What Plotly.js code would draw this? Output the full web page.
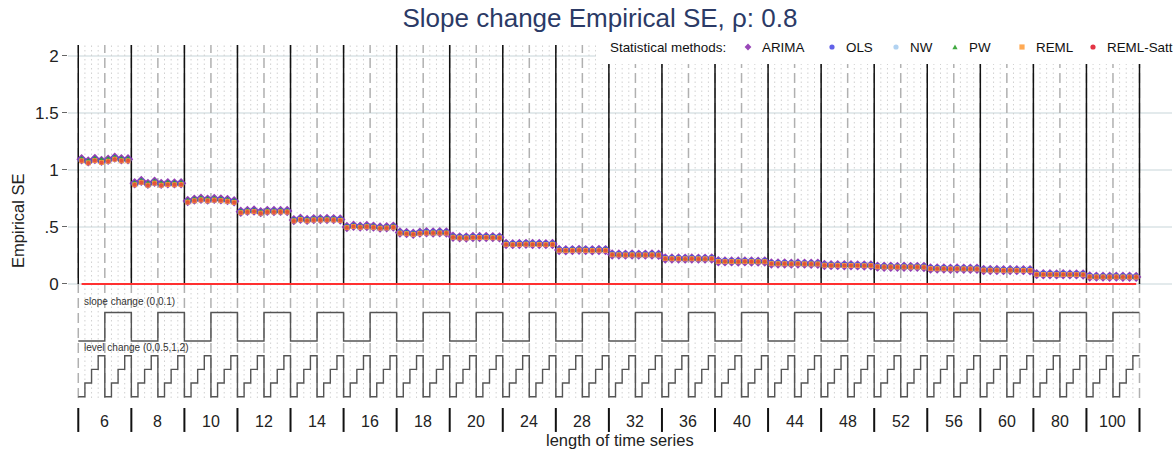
<!DOCTYPE html>
<html>
<head>
<meta charset="utf-8">
<script src="https://cdn.plot.ly/plotly-3.0.1.min.js"></script>
<style>html,body{margin:0;padding:0;background:#fff;}#chart{width:1175px;height:452px;}</style>
</head>
<body>
<div id="chart"></div>
<script>
// ---------------- data ----------------
const lengths = [6,8,10,12,14,16,18,20,24,28,32,36,40,44,48,52,56,60,80,100];
const slopeChange = [0, 0.1];
const levelChange = [0, 0.5, 1, 2];
const methods = ['ARIMA','OLS','NW','PW','REML','REML-Satt'];

// Empirical SE per scenario (length x slope x level), 8 values per length
const seARIMA = [
 1.094,1.075,1.096,1.080,1.090,1.108,1.094,1.094,
 0.883,0.904,0.878,0.896,0.878,0.884,0.882,0.884,
 0.728,0.740,0.748,0.740,0.746,0.742,0.736,0.726,
 0.634,0.641,0.644,0.630,0.641,0.640,0.641,0.640,
 0.560,0.572,0.562,0.569,0.569,0.570,0.569,0.565,
 0.500,0.510,0.503,0.508,0.503,0.495,0.497,0.503,
 0.452,0.447,0.441,0.450,0.453,0.452,0.453,0.452,
 0.414,0.409,0.408,0.412,0.412,0.412,0.411,0.409,
 0.351,0.349,0.350,0.352,0.351,0.350,0.349,0.351,
 0.298,0.296,0.297,0.299,0.297,0.296,0.298,0.297,
 0.259,0.258,0.257,0.258,0.257,0.257,0.258,0.256,
 0.224,0.223,0.223,0.222,0.223,0.222,0.222,0.223,
 0.199,0.198,0.198,0.197,0.198,0.197,0.196,0.197,
 0.180,0.179,0.179,0.178,0.179,0.178,0.177,0.177,
 0.166,0.165,0.165,0.164,0.164,0.163,0.162,0.163,
 0.152,0.151,0.151,0.150,0.151,0.150,0.150,0.149,
 0.136,0.135,0.135,0.134,0.135,0.134,0.134,0.133,
 0.123,0.122,0.122,0.121,0.122,0.121,0.121,0.120,
 0.086,0.085,0.085,0.084,0.085,0.084,0.084,0.083,
 0.065,0.064,0.064,0.063,0.064,0.063,0.063,0.062
];
const seOLS = [
 1.088,1.070,1.090,1.074,1.084,1.102,1.088,1.088,
 0.876,0.898,0.872,0.890,0.872,0.878,0.876,0.878,
 0.723,0.735,0.743,0.735,0.741,0.737,0.731,0.721,
 0.631,0.638,0.641,0.627,0.638,0.637,0.638,0.637,
 0.558,0.570,0.560,0.567,0.567,0.568,0.567,0.563,
 0.499,0.509,0.502,0.507,0.502,0.494,0.496,0.502,
 0.452,0.447,0.441,0.450,0.453,0.452,0.453,0.452,
 0.415,0.410,0.409,0.413,0.413,0.413,0.412,0.410,
 0.353,0.351,0.352,0.354,0.353,0.352,0.351,0.353,
 0.300,0.298,0.299,0.301,0.299,0.298,0.300,0.299,
 0.261,0.260,0.259,0.260,0.259,0.259,0.260,0.258,
 0.226,0.225,0.225,0.224,0.225,0.224,0.224,0.225,
 0.201,0.200,0.200,0.199,0.200,0.199,0.198,0.199,
 0.182,0.181,0.181,0.180,0.181,0.180,0.179,0.179,
 0.168,0.167,0.167,0.166,0.166,0.165,0.164,0.165,
 0.154,0.153,0.153,0.152,0.153,0.152,0.152,0.151,
 0.138,0.137,0.137,0.136,0.137,0.136,0.136,0.135,
 0.125,0.124,0.124,0.123,0.124,0.123,0.123,0.122,
 0.088,0.087,0.087,0.086,0.087,0.086,0.086,0.085,
 0.067,0.066,0.066,0.065,0.066,0.065,0.065,0.064
];
const seNW = seOLS; // same point estimates as OLS
const sePW = [
 1.097,1.078,1.099,1.088,1.093,1.110,1.096,1.096,
 0.886,0.906,0.881,0.898,0.881,0.887,0.885,0.886,
 0.730,0.742,0.750,0.742,0.748,0.744,0.738,0.728,
 0.635,0.642,0.645,0.631,0.642,0.641,0.642,0.641,
 0.561,0.573,0.563,0.570,0.570,0.571,0.570,0.566,
 0.501,0.511,0.504,0.509,0.504,0.496,0.498,0.504,
 0.452,0.447,0.441,0.450,0.453,0.452,0.453,0.452,
 0.414,0.409,0.408,0.412,0.412,0.412,0.411,0.409,
 0.351,0.349,0.350,0.352,0.351,0.350,0.349,0.351,
 0.298,0.296,0.297,0.299,0.297,0.296,0.298,0.297,
 0.259,0.258,0.257,0.258,0.257,0.257,0.258,0.256,
 0.224,0.223,0.223,0.222,0.223,0.222,0.222,0.223,
 0.199,0.198,0.198,0.197,0.198,0.197,0.196,0.197,
 0.180,0.179,0.179,0.178,0.179,0.178,0.177,0.177,
 0.166,0.165,0.165,0.164,0.164,0.163,0.162,0.163,
 0.152,0.151,0.151,0.150,0.151,0.150,0.150,0.149,
 0.136,0.135,0.135,0.134,0.135,0.134,0.134,0.133,
 0.123,0.122,0.122,0.121,0.122,0.121,0.121,0.120,
 0.086,0.085,0.085,0.084,0.085,0.084,0.084,0.083,
 0.065,0.064,0.064,0.063,0.064,0.063,0.063,0.062
];
const seREML = [
 1.080,1.062,1.082,1.066,1.076,1.094,1.080,1.080,
 0.870,0.891,0.866,0.884,0.866,0.872,0.870,0.872,
 0.717,0.729,0.737,0.729,0.735,0.731,0.725,0.715,
 0.625,0.632,0.635,0.621,0.632,0.631,0.632,0.631,
 0.553,0.564,0.554,0.561,0.561,0.562,0.561,0.557,
 0.494,0.504,0.497,0.502,0.497,0.489,0.491,0.497,
 0.446,0.441,0.435,0.444,0.447,0.446,0.447,0.446,
 0.409,0.404,0.403,0.407,0.407,0.407,0.406,0.404,
 0.347,0.345,0.346,0.348,0.347,0.346,0.345,0.347,
 0.295,0.293,0.294,0.296,0.294,0.293,0.295,0.294,
 0.256,0.255,0.254,0.255,0.254,0.254,0.255,0.253,
 0.222,0.221,0.221,0.220,0.221,0.220,0.220,0.221,
 0.197,0.196,0.196,0.195,0.196,0.195,0.194,0.195,
 0.178,0.177,0.177,0.176,0.177,0.176,0.175,0.175,
 0.164,0.163,0.163,0.162,0.162,0.161,0.160,0.161,
 0.150,0.149,0.149,0.148,0.149,0.148,0.148,0.147,
 0.134,0.133,0.133,0.132,0.133,0.132,0.132,0.131,
 0.121,0.120,0.120,0.119,0.120,0.119,0.119,0.118,
 0.084,0.083,0.083,0.082,0.083,0.082,0.082,0.081,
 0.063,0.062,0.062,0.061,0.062,0.061,0.061,0.060
];
const seREMLSatt = seREML; // same point estimates as REML
const trueValue = 0;

// ---------------- styles ----------------
const FONT = 'Liberation Sans, Arial, sans-serif';
const seriesStyle = {
  'ARIMA':     {data: seARIMA,    color:'#8e34b0', symbol:'diamond',      size:8,   opacity:0.95},
  'OLS':       {data: seOLS,      color:'#5050e6', symbol:'circle',       size:6.5, opacity:0.95},
  'NW':        {data: seNW,       color:'#a8cdf0', symbol:'circle',       size:4,   opacity:0.9},
  'PW':        {data: sePW,       color:'#2ca02c', symbol:'triangle-up',  size:6,   opacity:0.9},
  'REML':      {data: seREML,     color:'#ffa040', symbol:'square',       size:5,   opacity:0.9},
  'REML-Satt': {data: seREMLSatt, color:'#e01e30', symbol:'circle',       size:4,   opacity:0.6}
};

const nL = levelChange.length, nS = slopeChange.length;
const perGroup = nL * nS;
const nTot = lengths.length * perGroup;

// geometry (pixels) of the plot area
const M = {l:68, r:3, t:45, b:18};
const W = 1175, H = 452;
const plotW = W - M.l - M.r, plotH = H - M.t - M.b;

// scenario positions (index units)
const xs = [];
for (let k = 0; k < nTot; k++) xs.push(k + 0.5);

// layout of lower panel (in y units of the chart)
const Y_TOP = 2.096, Y_BOT = -1.316;
const slopeLow = -0.50, slopeHigh = -0.25;
const levelBase = -0.989, levelStep = 0.12;
const guideBottom = -1.0;
const barTop = -1.088, barBot = -1.298, labelY = -1.21;

const traces = [];
function vlines(positions, y0, y1) {
  const x = [], y = [];
  positions.forEach(p => { x.push(p, p, null); y.push(y0, y1, null); });
  return {x, y};
}
const dotPos = [], dashPos = [], solidPos = [];
for (let k = 0; k <= nTot; k++) {
  if (k % perGroup === 0) solidPos.push(k);
  if (k % nL === 0) dashPos.push(k); else dotPos.push(k);
}
let v = vlines(dotPos, guideBottom, Y_TOP);
traces.push({x:v.x, y:v.y, mode:'lines', line:{color:'#d0d0d0', width:1, dash:'1.5px,3px'}, hoverinfo:'skip', showlegend:false});
v = vlines(dashPos, guideBottom, Y_TOP);
traces.push({x:v.x, y:v.y, mode:'lines', line:{color:'#b0b0b0', width:1.5, dash:'10px,5px'}, hoverinfo:'skip', showlegend:false});
v = vlines(solidPos, 0, Y_TOP);
traces.push({x:v.x, y:v.y, mode:'lines', line:{color:'#111', width:1.5}, hoverinfo:'skip', showlegend:false});
v = vlines(solidPos, barBot, barTop);
traces.push({x:v.x, y:v.y, mode:'lines', line:{color:'#111', width:2}, hoverinfo:'skip', showlegend:false});

// nested-loop step lines
const sx = [], sy = [], lx = [], ly = [];
for (let k = 0; k < nTot; k++) {
  const s = Math.floor((k % perGroup) / nL);
  const l = k % nL;
  sx.push(k); sy.push(s === 0 ? slopeLow : slopeHigh);
  lx.push(k); ly.push(levelBase + levelStep * l);
}
sx.push(nTot); sy.push(sy[sy.length-1]);
lx.push(nTot); ly.push(ly[ly.length-1]);
traces.push({x:sx, y:sy, mode:'lines', line:{color:'#555', width:1.4, shape:'hv'}, hoverinfo:'skip', showlegend:false});
traces.push({x:lx, y:ly, mode:'lines', line:{color:'#555', width:1.4, shape:'hv'}, hoverinfo:'skip', showlegend:false});

// reference line
traces.push({x:[xs[0], xs[nTot-1]], y:[trueValue, trueValue], mode:'lines', line:{color:'#ff3030', width:2}, hoverinfo:'skip', showlegend:false});

// method markers
methods.forEach(m => {
  const st = seriesStyle[m];
  traces.push({x: xs, y: st.data, name: m, type:'scatter', mode:'markers', showlegend:false,
    marker:{color: st.color, symbol: st.symbol, size: st.size, opacity: st.opacity, line:{width:0}}});
});

// annotations
const ann = [];
lengths.forEach((L, g) => {
  ann.push({x: g*perGroup + perGroup/2, y: labelY, xref:'x', yref:'y', text: String(L), showarrow:false,
    font:{family:FONT, size:16, color:'#222'}});
});
ann.push({x:0.5, y:-0.158, xref:'x', yref:'y', xanchor:'left', text:'slope change (0,0.1)', showarrow:false,
  font:{family:FONT, size:10, color:'#333'}});
ann.push({x:0.5, y:-0.561, xref:'x', yref:'y', xanchor:'left', text:'level change (0,0.5,1,2)', showarrow:false,
  font:{family:FONT, size:10, color:'#333'}});
ann.push({x:0.5, y:0, xref:'paper', yref:'paper', yanchor:'middle', yshift:-6, text:'length of time series', showarrow:false,
  font:{family:FONT, size:16.5, color:'#222'}});
ann.push({x:0, y:0.553, xref:'paper', yref:'y', xanchor:'center', xshift:-50, textangle:-90, text:'Empirical SE', showarrow:false,
  font:{family:FONT, size:16.5, color:'#222'}});

// ---------------- legend (drawn manually, ggplot-like) ----------------
const px2x = px => (px - M.l) / plotW;
const py2y = py => (H - M.b - py) / plotH;
const legendTitle = 'Statistical methods:';
const legendTitleX = 608, legendY = 47;
const legendKeyX = [748, 832, 896, 955, 1022, 1093];   // key centres (px)
const legendTextGap = 12;
const shapes = [];
shapes.push({type:'rect', xref:'paper', yref:'paper', x0:px2x(596), x1:1.0, y0:py2y(64), y1:py2y(30),
  fillcolor:'#fff', line:{width:0}, layer:'above'});
ann.push({x:px2x(legendTitleX), y:py2y(legendY), xref:'paper', yref:'paper', xanchor:'left', yanchor:'middle',
  text:legendTitle, showarrow:false, font:{family:FONT, size:13.4, color:'#111'}});
methods.forEach((m, i) => {
  const st = seriesStyle[m];
  const cx = px2x(legendKeyX[i]), cy = py2y(legendY);
  const base = {xref:'paper', yref:'paper', xsizemode:'pixel', ysizemode:'pixel', xanchor:cx, yanchor:cy,
                fillcolor:st.color, line:{width:0}, layer:'above', opacity:0.9};
  const r = 2.6;
  if (st.symbol === 'circle') shapes.push(Object.assign({type:'circle', x0:-r, x1:r, y0:-r, y1:r}, base));
  else if (st.symbol === 'square') shapes.push(Object.assign({type:'rect', x0:-r, x1:r, y0:-r, y1:r}, base));
  else if (st.symbol === 'diamond') shapes.push(Object.assign({type:'path', path:`M0,${r+0.8} L${r+0.8},0 L0,${-r-0.8} L${-r-0.8},0 Z`}, base));
  else shapes.push(Object.assign({type:'path', path:`M${-r},${-r+0.4} L${r},${-r+0.4} L0,${r} Z`}, base));
  ann.push({x:px2x(legendKeyX[i] + legendTextGap), y:cy, xref:'paper', yref:'paper', xanchor:'left', yanchor:'middle',
    text:m, showarrow:false, font:{family:FONT, size:13.4, color:'#111'}});
});

const layout = {
  width:W, height:H,
  margin:M,
  paper_bgcolor:'#fff', plot_bgcolor:'#fff',
  font:{family:FONT, color:'#222'},
  title:{text:'Slope change Empirical SE, ρ: 0.8', font:{family:FONT, size:26, color:'#2b3a66'},
         x:0.5106, xanchor:'center', xref:'container', y:0.96, yanchor:'middle', yref:'container'},
  xaxis:{range:[-1.55, 164.9], showgrid:false, zeroline:false, showticklabels:false, ticks:'', showline:false, fixedrange:true},
  yaxis:{range:[Y_BOT, Y_TOP], tickvals:[0,0.5,1,1.5,2], ticktext:['0','.5','1','1.5','2'],
         ticks:'outside', ticklen:5, tickcolor:'#666', tickwidth:1,
         tickfont:{family:FONT, size:17, color:'#222'},
         showgrid:true, gridcolor:'#e3eaec', gridwidth:1.5, zeroline:false, showline:false, fixedrange:true},
  shapes: shapes,
  annotations: ann,
  showlegend:false
};

Plotly.newPlot('chart', traces, layout, {displayModeBar:false, staticPlot:true});
</script>
</body>
</html>
